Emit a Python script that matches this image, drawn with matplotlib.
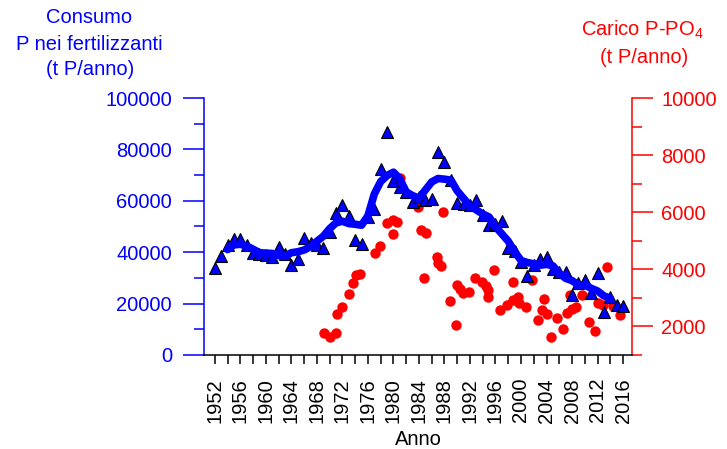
import matplotlib
matplotlib.use('Agg')
import matplotlib.pyplot as plt
import pandas as pd
from matplotlib.ticker import MultipleLocator

plt.rcParams['font.family'] = 'Liberation Sans'
plt.rcParams['mathtext.fontset'] = 'custom'
plt.rcParams['mathtext.rm'] = 'Liberation Sans'

# consumo di P nei fertilizzanti (t P/anno), un valore per anno
anni = list(range(1952, 2017))
consumo = [33700, 38600, 42800, 45000, 45000, 42800, 39800, 39300, 38900, 38200,
           41900, 39300, 35000, 37400, 45400, 43700, 42800, 41500, 47800, 55200,
           58500, 54100, 44600, 43300, 53800, 56700, 72400, 86900, 67600, 65500,
           63300, 59500, 61500, 60300, 60600, 79100, 75200, 68200, 59000, 58800,
           58200, 60400, 54300, 50500, 51000, 52300, 41500, 40300, 36300, 30800,
           35000, 37400, 38100, 33400, 32400, 32100, 23300, 27900, 29000, 24000,
           32000, 16800, 22700, 19500, 19100]

# carico P-PO4 (t P/anno)
carico_anni = [1969.1, 1970.0, 1971.0, 1971.1, 1971.9, 1973.0, 1973.6, 1974.1, 1974.7,
               1977.1, 1977.9, 1979.0, 1979.9, 1980.5, 1979.9, 1981.0, 1983.8, 1984.3,
               1985.1, 1984.8, 1986.8, 1987.0, 1987.5, 1987.8, 1988.9, 1989.8, 1990.0,
               1990.4, 1990.9, 1991.8, 1992.8, 1993.9, 1994.5, 1994.8, 1994.8, 1995.8,
               1996.7, 1997.8, 1998.7, 1998.7, 1999.5, 1999.7, 2000.8, 2001.7, 2002.7,
               2003.3, 2003.6, 2004.1, 2004.7, 2005.6, 2006.6, 2007.2, 2008.0, 2008.6,
               2007.7, 2009.6, 2010.7, 2011.6, 2012.0, 2012.9, 2013.5, 2014.4, 2015.5]
carico = [1770, 1630, 1770, 2420, 2680, 3140, 3520, 3800, 3840,
          4570, 4820, 5620, 5730, 5660, 5240, 7200, 6180, 5380,
          5270, 3700, 4430, 4220, 4120, 6010, 2890, 2050, 3450,
          3310, 3170, 3210, 3700, 3560, 3420, 3280, 3030, 3980,
          2580, 2750, 2930, 3560, 3030, 2820, 2680, 3630, 2230,
          2580, 2960, 2440, 1630, 2300, 1910, 2470, 2610, 2680,
          3100, 3100, 2160, 1840, 2820, 2750, 4080, 2720, 2400]

BLU = '#0000ff'
ROSSO = '#ff0000'
FS = 14.5

# media mobile centrata su 5 anni
media = pd.Series(consumo).rolling(5, center=True).mean()

fig = plt.figure(figsize=(7.27, 4.49), dpi=100)
ax = fig.add_axes([0.2806, 0.2094, 0.5887, 0.5723])
ax2 = ax.twinx()
ax.set_zorder(ax2.get_zorder() + 1)
ax.patch.set_visible(False)

ax2.plot(carico_anni, carico, 'o', color=ROSSO, ms=7.5, mec='none')
ax.plot(anni, consumo, '^', color=BLU, mec='black', mew=0.8, ms=9)
ax.plot(anni, media, '-', color=BLU, lw=5.5, solid_capstyle='round')

ax.set_xlim(1950.3, 2017.4)
ax.set_ylim(0, 100000)
ax2.set_ylim(1000, 10000)

ax.xaxis.set_major_locator(MultipleLocator(4))
ax.xaxis.set_minor_locator(MultipleLocator(2))
ax.yaxis.set_major_locator(MultipleLocator(20000))
ax.yaxis.set_minor_locator(MultipleLocator(10000))
ax2.yaxis.set_major_locator(MultipleLocator(2000))
ax2.yaxis.set_minor_locator(MultipleLocator(1000))

ax.tick_params(axis='x', which='both', length=6.5, width=1.1, direction='out')
ax.tick_params(axis='x', which='major', labelsize=FS, labelrotation=90, pad=10)
ax.tick_params(axis='y', which='major', colors=BLU, length=15, width=1.1, labelsize=FS, pad=8)
ax.tick_params(axis='y', which='minor', colors=BLU, length=7, width=1.1)
ax2.tick_params(axis='y', which='major', colors=ROSSO, length=15, width=1.1, labelsize=FS, pad=6)
ax2.tick_params(axis='y', which='minor', colors=ROSSO, length=7, width=1.1)

for s in ['top', 'right']:
    ax.spines[s].set_visible(False)
for s in ['top', 'left', 'bottom']:
    ax2.spines[s].set_visible(False)
ax.spines['left'].set_color(BLU)
ax.spines['left'].set_linewidth(1.1)
ax.spines['bottom'].set_linewidth(1.1)
ax2.spines['right'].set_color(ROSSO)
ax2.spines['right'].set_linewidth(1.1)

fig.text(0.575, 0.022, 'Anno', ha='center', va='center', fontsize=FS)

fig.text(0.1224, 0.960, 'Consumo', ha='center', va='center', color=BLU, fontsize=FS)
fig.text(0.1224, 0.902, 'P nei fertilizzanti', ha='center', va='center', color=BLU, fontsize=FS)
fig.text(0.1238, 0.846, '(t P/anno)', ha='center', va='center', color=BLU, fontsize=FS)

fig.text(0.884, 0.934, r'Carico P-PO$_4$', ha='center', va='center', color=ROSSO, fontsize=FS)
fig.text(0.886, 0.873, '(t P/anno)', ha='center', va='center', color=ROSSO, fontsize=FS)

fig.savefig('out.png', dpi=100)
